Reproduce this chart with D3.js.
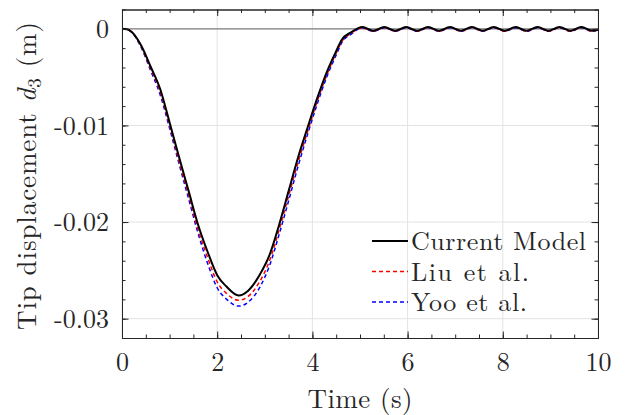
<!DOCTYPE html>
<html>
<head>
<meta charset="utf-8">
<script src="https://cdn.jsdelivr.net/npm/d3@7"></script>
</head>
<body style="margin:0; background:#fff">
<svg id="chart" width="633" height="415"></svg>
<script>
// time samples (s), shared by the three series
var time = [0, 0.1, 0.2, 0.4, 0.6, 0.8, 1.0, 1.2, 1.4, 1.6, 1.8, 2.0, 2.2, 2.45, 2.65, 2.9, 3.1, 3.3, 3.5, 3.7, 3.9, 4.1, 4.3, 4.5, 4.62, 4.8,
  5.05, 5.28, 5.51, 5.74, 5.97, 6.2, 6.43, 6.66, 6.89, 7.12, 7.35, 7.58, 7.81, 8.04, 8.27, 8.5, 8.73, 8.96, 9.19, 9.42, 9.65, 9.88, 10.0];

// tip displacement d3 (m)
var currentModel = [0, -0.00005, -0.0003, -0.0017, -0.0039, -0.0062, -0.0097, -0.0133, -0.0168, -0.0203, -0.0231, -0.0255, -0.0267, -0.0276, -0.0271, -0.0254, -0.0234, -0.0203, -0.0168, -0.0133, -0.0102, -0.0072, -0.0045, -0.0023, -0.0011, -0.0004,
  0.0002, -0.0002, 0.0002, -0.0002, 0.0002, -0.0002, 0.0002, -0.0002, 0.0002, -0.0002, 0.0002, -0.0002, 0.0002, -0.0002, 0.0002, -0.0002, 0.0002, -0.0002, 0.0002, -0.0002, 0.0002, -0.0002, -0.0001];
var liu = [0, -0.00005, -0.0003, -0.0018, -0.0041, -0.0065, -0.0100, -0.0137, -0.0172, -0.0208, -0.0237, -0.0262, -0.0274, -0.0281, -0.0277, -0.0261, -0.0240, -0.0208, -0.0173, -0.0138, -0.0106, -0.0075, -0.0048, -0.0025, -0.0013, -0.0005,
  0.0001, -0.00025, 0.00015, -0.00025, 0.00015, -0.00025, 0.00015, -0.00025, 0.00015, -0.00025, 0.00015, -0.00025, 0.00015, -0.00025, 0.00015, -0.00025, 0.00015, -0.00025, 0.00015, -0.00025, 0.00015, -0.00025, -0.0001];
var yoo = [0, -0.00006, -0.00035, -0.0019, -0.0043, -0.0068, -0.0103, -0.0140, -0.0176, -0.0212, -0.0243, -0.0268, -0.0280, -0.0287, -0.0283, -0.0267, -0.0245, -0.0213, -0.0178, -0.0142, -0.0109, -0.0078, -0.0050, -0.0027, -0.0014, -0.0006,
  0.0001, -0.00025, 0.00012, -0.00025, 0.00012, -0.00025, 0.00012, -0.00025, 0.00012, -0.00025, 0.00012, -0.00025, 0.00012, -0.00025, 0.00012, -0.00025, 0.00012, -0.00025, 0.00012, -0.00025, 0.00012, -0.00025, -0.0001];

var seriesNames = ["Current Model", "Liu et al.", "Yoo et al."];
var xTicks = [0, 2, 4, 6, 8, 10];
var yTicks = [0, -0.01, -0.02, -0.03];
var yTickLabels = ["0", "-0.01", "-0.02", "-0.03"];

var svg = d3.select("#chart");
var L = 122, R = 598, T = 9.5, B = 338;
var FONT = "'Latin Modern Roman', 'Liberation Serif', serif";
var INK = "#262626";

var x = d3.scaleLinear().domain([0, 10]).range([L, R]);
var y = d3.scaleLinear().domain([-0.032, 0.002]).range([B, T]);

// grid
var grid = svg.append("g").attr("stroke", "#e3e3e3").attr("stroke-width", 1);
xTicks.forEach(function(t) {
  grid.append("line").attr("x1", x(t)).attr("x2", x(t)).attr("y1", T).attr("y2", B);
});
yTicks.forEach(function(t) {
  grid.append("line").attr("x1", L).attr("x2", R).attr("y1", y(t)).attr("y2", y(t));
});

// zero reference line
svg.append("line").attr("x1", L).attr("x2", R).attr("y1", y(0)).attr("y2", y(0))
  .attr("stroke", "#808080").attr("stroke-width", 1.2);

// curves
var pts = function(vals) { return time.map(function(t, i) { return [t, vals[i]]; }); };
var line = d3.line().x(function(d) { return x(d[0]); }).y(function(d) { return y(d[1]); }).curve(d3.curveMonotoneX);

var styles = [
  { data: currentModel, color: "#000", width: 2, dash: null },
  { data: liu, color: "#ff0000", width: 1.5, dash: "4,3" },
  { data: yoo, color: "#0000ff", width: 1.5, dash: "4,3" }
];
[styles[2], styles[1], styles[0]].forEach(function(s) {
  svg.append("path").attr("d", line(pts(s.data))).attr("fill", "none")
    .attr("stroke", s.color).attr("stroke-width", s.width).attr("stroke-dasharray", s.dash);
});

// axes (box, inward ticks)
var minorX = d3.range(0, 10.01, 0.5), minorY = d3.range(-0.032, 0.0021, 0.002);
function addAxis(axisFn, scale, vals, size, transform, fmt) {
  var g = svg.append("g").attr("transform", transform)
    .call(axisFn(scale).tickValues(vals).tickSize(size).tickSizeOuter(0).tickFormat(fmt || ""));
  g.selectAll("line").attr("stroke", INK);
  g.select(".domain").attr("stroke", INK);
  return g;
}
addAxis(d3.axisBottom, x, minorX, -3.5, "translate(0," + B + ")");
addAxis(d3.axisTop, x, minorX, -3.5, "translate(0," + T + ")");
addAxis(d3.axisLeft, y, minorY, -3.5, "translate(" + L + ",0)");
addAxis(d3.axisRight, y, minorY, -3.5, "translate(" + R + ",0)");
var xb = addAxis(d3.axisBottom, x, xTicks, -6.5, "translate(0," + B + ")", function(d) { return d; });
addAxis(d3.axisTop, x, xTicks, -6.5, "translate(0," + T + ")");
var yl = addAxis(d3.axisLeft, y, yTicks, -6.5, "translate(" + L + ",0)", function(d, i) { return yTickLabels[i]; });
addAxis(d3.axisRight, y, yTicks, -6.5, "translate(" + R + ",0)");

xb.selectAll("text").attr("dy", 0).attr("y", 33)
  .style("font-family", FONT).style("font-size", "26px").style("fill", INK);
yl.selectAll("text").attr("x", -13).attr("dy", "0.33em")
  .style("font-family", FONT).style("font-size", "26px").style("fill", INK);

// axis labels
svg.append("text").attr("x", 360).attr("y", 408).attr("text-anchor", "middle")
  .style("font-family", FONT).style("font-size", "27px").style("fill", INK)
  .attr("textLength", 105).attr("lengthAdjust", "spacing").text("Time (s)");

var ylab = svg.append("text").attr("transform", "translate(36,176) rotate(-90)").attr("text-anchor", "middle")
  .style("font-family", FONT).style("font-size", "27px").style("fill", INK)
  .attr("textLength", 308).attr("lengthAdjust", "spacing");
ylab.append("tspan").text("Tip displacement ");
ylab.append("tspan").style("font-style", "italic").text("d");
ylab.append("tspan").style("font-size", "19px").attr("dy", 5).text("3");
ylab.append("tspan").attr("dy", -5).text(" (m)");

// legend
var leg = svg.append("g");
styles.forEach(function(s, i) {
  var ly = 241 + i * 30.5;
  leg.append("line").attr("x1", 372).attr("x2", 408).attr("y1", ly).attr("y2", ly)
    .attr("stroke", s.color).attr("stroke-width", s.width === 2 ? 2 : 1.3).attr("stroke-dasharray", s.dash);
  leg.append("text").attr("x", 411).attr("y", ly + 9)
    .style("font-family", FONT).style("font-size", "26px").style("fill", INK)
    .attr("textLength", [175, 118, 116][i]).attr("lengthAdjust", "spacing").text(seriesNames[i]);
});
</script>
</body>
</html>
